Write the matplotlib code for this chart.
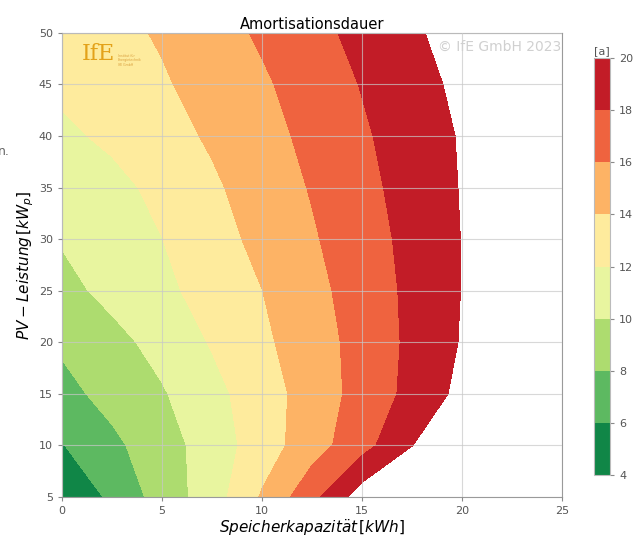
import numpy as np
import matplotlib
matplotlib.use("Agg")
import matplotlib.pyplot as plt

plt.rcParams.update({
    "font.family": "DejaVu Sans",
    "font.size": 8,
    "mathtext.fontset": "dejavusans",
})

# grid of the payback map: storage capacity [kWh] x PV power [kWp]
speicher = [0, 2.5, 5, 7.5, 10, 12.5, 15, 17.5, 20, 22.5, 25]
pv_leistung = [5, 10, 15, 20, 25, 30, 35, 40, 45, 50]

# amortisation time in years, one row per PV power
dauer = [
    [4.05, 6.43, 8.83, 11.04, 14.19, 17.38, 21.08, 24.0, 27.0, 30.0, 33.0],
    [5.90, 7.56, 9.13, 10.92, 13.00, 15.13, 17.25, 19.94, 23.0, 26.0, 29.0],
    [7.40, 8.64, 9.81, 11.40, 13.08, 14.87, 16.71, 18.56, 20.56, 22.6, 24.6],
    [8.30, 9.39, 10.66, 12.15, 13.62, 15.10, 16.69, 18.41, 20.14, 21.9, 23.6],
    [9.40, 10.55, 11.56, 12.73, 13.98, 15.41, 16.89, 18.44, 20.05, 21.6, 23.2],
    [10.15, 11.08, 11.98, 13.25, 14.51, 15.79, 17.15, 18.55, 20.05, 21.5, 23.0],
    [10.90, 11.55, 12.41, 13.69, 14.92, 16.13, 17.43, 18.76, 20.11, 21.5, 23.0],
    [11.70, 12.30, 13.24, 14.26, 15.33, 16.48, 17.73, 18.95, 20.17, 21.4, 22.6],
    [12.30, 13.05, 13.79, 14.72, 15.72, 16.88, 18.09, 19.27, 20.45, 21.6, 22.8],
    [12.80, 13.47, 14.20, 15.22, 16.27, 17.41, 18.55, 19.70, 20.85, 22.0, 23.2],
]

stufen = [4, 6, 8, 10, 12, 14, 16, 18, 20]

X, Y = np.meshgrid(speicher, pv_leistung)
Z = np.array(dauer)

fig = plt.figure(figsize=(6.38, 5.39), dpi=100)
ax = fig.add_axes([0.097, 0.078, 0.784, 0.861])
cax = fig.add_axes([0.931, 0.119, 0.025, 0.773])

cf = ax.contourf(X, Y, Z, levels=stufen, cmap="RdYlGn_r")

ax.set_xlim(0, 25)
ax.set_ylim(5, 50)
ax.set_xticks(range(0, 26, 5))
ax.set_yticks(range(5, 51, 5))
ax.set_axisbelow(False)
ax.grid(True, color="#c8c8c8", alpha=0.7, linewidth=0.8)
ax.tick_params(colors="#8a8a8a", labelcolor="#555555", labelsize=8, length=3)
for s in ax.spines.values():
    s.set_color("#9a9a9a")

ax.set_title("Amortisationsdauer", fontsize=10.5, pad=3)
ax.set_xlabel(r"$Speicherkapazit\ddot{a}t\,[kWh]$", fontsize=11, labelpad=1)
ax.set_ylabel(r"$PV-Leistung\,[kW_p]$", fontsize=11, labelpad=2)

# logo and copyright note
ax.text(0.04, 0.978, "IfE", transform=ax.transAxes, family="DejaVu Serif",
        fontsize=16, color="#e3a21a", va="top", ha="left")
ax.text(0.112, 0.955, "Institut für\nEnergietechnik\nIfE GmbH", transform=ax.transAxes,
        fontsize=2.3, color="#d9a040", va="top", ha="left", linespacing=1.2)
ax.text(0.998, 0.985, "© IfE GmbH 2023", transform=ax.transAxes, fontsize=10,
        color="#d0d0d0", va="top", ha="right")

cb = fig.colorbar(cf, cax=cax, ticks=stufen)
cb.outline.set_edgecolor("#bbbbbb")
cb.ax.tick_params(colors="#8a8a8a", labelcolor="#555555", labelsize=8, length=3)
cax.set_title("[a]", fontsize=8, color="#555555", pad=3)

fig.text(-0.003, 0.718, "n.", fontsize=9, color="#666666", ha="left", va="center")

fig.savefig("out.png", dpi=100)
